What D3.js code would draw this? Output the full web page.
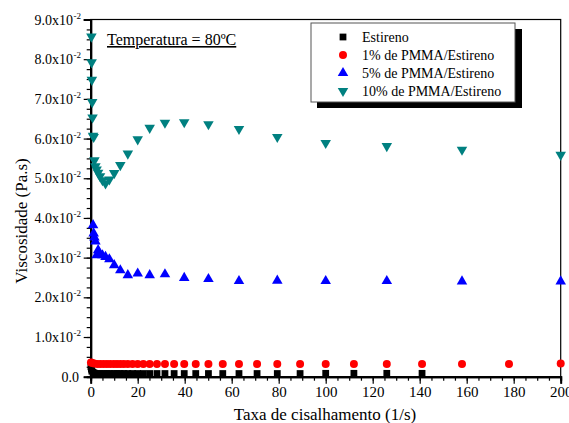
<!DOCTYPE html>
<html>
<head>
<meta charset="utf-8">
<script src="https://cdn.jsdelivr.net/npm/d3@7"></script>
<style>
  body { margin: 0; background: #fff; }
  svg text { font-family: "Liberation Serif", "Times New Roman", Times, "DejaVu Serif", serif; }
</style>
</head>
<body>
<svg id="chart" width="569" height="423"></svg>
<script>
// series (x = shear rate 1/s, y = viscosity Pa.s)
const estirenoX = [0.1, 0.3, 0.5, 1.0, 1.5, 2.8, 4.1, 5.5, 6.9, 8.3, 9.8, 11.2, 12.6, 14.1, 15.8, 17.8, 20, 22.4, 25.1, 28.2, 31.6, 35.5, 39.8, 44.7, 50.1, 56.2, 63.1, 70.8, 79.4, 89.1, 100, 112, 126, 141];
const estirenoY = [0.0025, 0.0019, 0.0014, 0.0011, 0.0009, 0.0008, 0.0008, 0.0008, 0.0008, 0.0008, 0.0008, 0.0008, 0.0008, 0.0008, 0.0008, 0.0008, 0.0008, 0.0008, 0.0008, 0.0008, 0.0008, 0.0008, 0.0008, 0.0008, 0.0008, 0.0008, 0.0008, 0.0008, 0.0008, 0.0008, 0.00085, 0.00085, 0.00085, 0.00085];

const pmma1X = [0.1, 0.5, 1.5, 2.8, 4.1, 5.5, 6.9, 8.3, 9.8, 11.2, 12.6, 14.1, 15.8, 17.8, 20, 22.4, 25.1, 28.2, 31.6, 35.5, 39.8, 44.7, 50.1, 56.2, 63.1, 70.8, 79.4, 89.1, 100, 112, 126, 141, 158, 178, 200];
const pmma1Y = [0.0036, 0.0035, 0.0033, 0.0032, 0.0032, 0.0032, 0.0032, 0.0032, 0.0032, 0.0032, 0.0032, 0.0032, 0.0032, 0.0032, 0.0032, 0.0032, 0.0032, 0.0032, 0.0032, 0.0032, 0.0032, 0.0032, 0.0032, 0.0032, 0.0032, 0.0032, 0.0032, 0.0032, 0.0032, 0.0032, 0.0032, 0.0032, 0.0032, 0.0032, 0.0033];

const pmma5X = [1.0, 1.26, 1.58, 2.0, 2.51, 3.16, 3.98, 5.01, 6.31, 7.94, 10, 12.6, 15.8, 20, 25.1, 31.6, 39.8, 50.1, 63.1, 79.4, 100, 126, 158, 200];
const pmma5Y = [0.0382, 0.0361, 0.0351, 0.0341, 0.0306, 0.0319, 0.0308, 0.0306, 0.0302, 0.0296, 0.0281, 0.0268, 0.0256, 0.0260, 0.0256, 0.0258, 0.0249, 0.0246, 0.0241, 0.0242, 0.0241, 0.0241, 0.0240, 0.0240];

const pmma10X = [0.3, 0.4, 0.5, 0.63, 0.79, 1.0, 1.26, 1.58, 2.0, 2.51, 3.16, 3.98, 5.01, 6.31, 7.94, 10, 12.6, 15.8, 20, 25.1, 31.6, 39.8, 50.1, 63.1, 79.4, 100, 126, 158, 200];
const pmma10Y = [0.0857, 0.0792, 0.0748, 0.0692, 0.0653, 0.0607, 0.0604, 0.0545, 0.0530, 0.0522, 0.0514, 0.0505, 0.0495, 0.0487, 0.0497, 0.0513, 0.0533, 0.0562, 0.0598, 0.0627, 0.0640, 0.0641, 0.0636, 0.0624, 0.0604, 0.0589, 0.0581, 0.0572, 0.0559];

const seriesNames = ["Estireno", "1% de PMMA/Estireno", "5% de PMMA/Estireno", "10% de PMMA/Estireno"];
const seriesColors = ["#000000", "#ff0000", "#0000ff", "#008080"];
const seriesSymbols = [d3.symbolSquare, d3.symbolCircle, d3.symbolTriangle, d3.symbolTriangle];

const xTicks = [0, 20, 40, 60, 80, 100, 120, 140, 160, 180, 200];
const yTicks = [0, 0.01, 0.02, 0.03, 0.04, 0.05, 0.06, 0.07, 0.08, 0.09];
const yTickLabels = ["0.0", "1.0x10", "2.0x10", "3.0x10", "4.0x10", "5.0x10", "6.0x10", "7.0x10", "8.0x10", "9.0x10"];

const serif = "'Liberation Serif', 'Times New Roman', Times, 'DejaVu Serif', serif";
const svg = d3.select("#chart");
const mLeft = 90.7, mRight = 560.7, mTop = 19.5, mBottom = 376.7;

const x = d3.scaleLinear().domain([0, 200]).range([mLeft, mRight]);
const y = d3.scaleLinear().domain([0, 0.09]).range([mBottom, mTop]);

// frame
svg.append("rect")
  .attr("x", mLeft).attr("y", mTop)
  .attr("width", mRight - mLeft).attr("height", mBottom - mTop)
  .attr("fill", "none").attr("stroke", "#000").attr("stroke-width", 1.2);

// minor ticks
const xMinor = d3.range(0, 201, 5);
const yMinor = d3.range(0, 0.0901, 0.0025);

let gx = svg.append("g").attr("transform", "translate(0," + mBottom + ")");
gx.call(d3.axisBottom(x).tickValues(xMinor).tickSize(4).tickFormat(""));
gx.append("g").call(d3.axisBottom(x).tickValues(xTicks).tickSize(7).tickPadding(3).tickFormat(d3.format("d")));
gx.selectAll("g").attr("font-family", serif);
gx.attr("font-family", serif);
gx.selectAll(".domain").attr("stroke-width", 2);
gx.selectAll("line").attr("stroke-width", 1.2);
gx.selectAll("text").attr("font-size", 15).attr("fill", "#000")
  .attr("font-family", serif);

let gy = svg.append("g").attr("transform", "translate(" + mLeft + ",0)");
gy.call(d3.axisLeft(y).tickValues(yMinor).tickSize(4).tickFormat(""));
gy.append("g").call(d3.axisLeft(y).tickValues(yTicks).tickSize(7).tickPadding(8).tickFormat(""));
gy.selectAll(".domain").attr("stroke-width", 2);
gy.selectAll("line").attr("stroke-width", 1.2);

// y tick labels with superscript exponent
yTicks.forEach(function (v, i) {
  svg.append("text")
    .attr("x", i === 0 ? 79 : 73)
    .attr("y", y(v) + 5)
    .attr("text-anchor", "end")
    .attr("font-family", serif)
    .attr("font-size", 14)
    .text(yTickLabels[i]);
  if (i > 0) {
    svg.append("text")
      .attr("x", 73.5)
      .attr("y", y(v) - 1)
      .attr("font-family", serif)
      .attr("font-size", 9)
      .text("-2");
  }
});

// axis titles
svg.append("text")
  .attr("x", 325).attr("y", 420)
  .attr("text-anchor", "middle")
  .attr("font-family", serif)
  .attr("font-size", 17)
  .text("Taxa de cisalhamento (1/s)");

svg.append("text")
  .attr("transform", "translate(27,221) rotate(-90)")
  .attr("text-anchor", "middle")
  .attr("font-family", serif)
  .attr("font-size", 17)
  .text("Viscosidade (Pa.s)");

// annotation
svg.append("text")
  .attr("x", 107).attr("y", 45)
  .attr("font-family", serif)
  .attr("font-size", 16)
  .attr("text-decoration", "underline")
  .text("Temperatura = 80ºC");

// data
const allSeries = [
  { xs: estirenoX, ys: estirenoY },
  { xs: pmma1X, ys: pmma1Y },
  { xs: pmma5X, ys: pmma5Y },
  { xs: pmma10X, ys: pmma10Y }
];
const symbolSizes = [46, 50, 48, 48];

allSeries.forEach(function (s, i) {
  let pts = s.xs.map(function (d, j) { return [d, s.ys[j]]; });
  let rot = i === 3 ? " rotate(180)" : "";
  svg.append("g").selectAll("path")
    .data(pts)
    .enter().append("path")
    .attr("d", d3.symbol().type(seriesSymbols[i]).size(symbolSizes[i]))
    .attr("transform", function (d) { return "translate(" + x(d[0]) + "," + y(d[1]) + ")" + rot; })
    .attr("fill", seriesColors[i]);
});

// legend box with shadow
const lg = svg.append("g");
lg.append("rect").attr("x", 317).attr("y", 29).attr("width", 205).attr("height", 79).attr("fill", "#000");
lg.append("rect").attr("x", 311).attr("y", 23).attr("width", 204).attr("height", 79)
  .attr("fill", "#fff").attr("stroke", "#555").attr("stroke-width", 1);

const legendRows = [37, 55, 73, 91];
seriesNames.forEach(function (name, i) {
  let rot = i === 3 ? " rotate(180)" : "";
  lg.append("path")
    .attr("d", d3.symbol().type(seriesSymbols[i]).size(symbolSizes[i]))
    .attr("transform", "translate(343," + legendRows[i] + ")" + rot)
    .attr("fill", seriesColors[i]);
  lg.append("text")
    .attr("x", 362).attr("y", legendRows[i] + 5)
    .attr("font-family", serif)
    .attr("font-size", 14)
    .text(name);
});
</script>
</body>
</html>
